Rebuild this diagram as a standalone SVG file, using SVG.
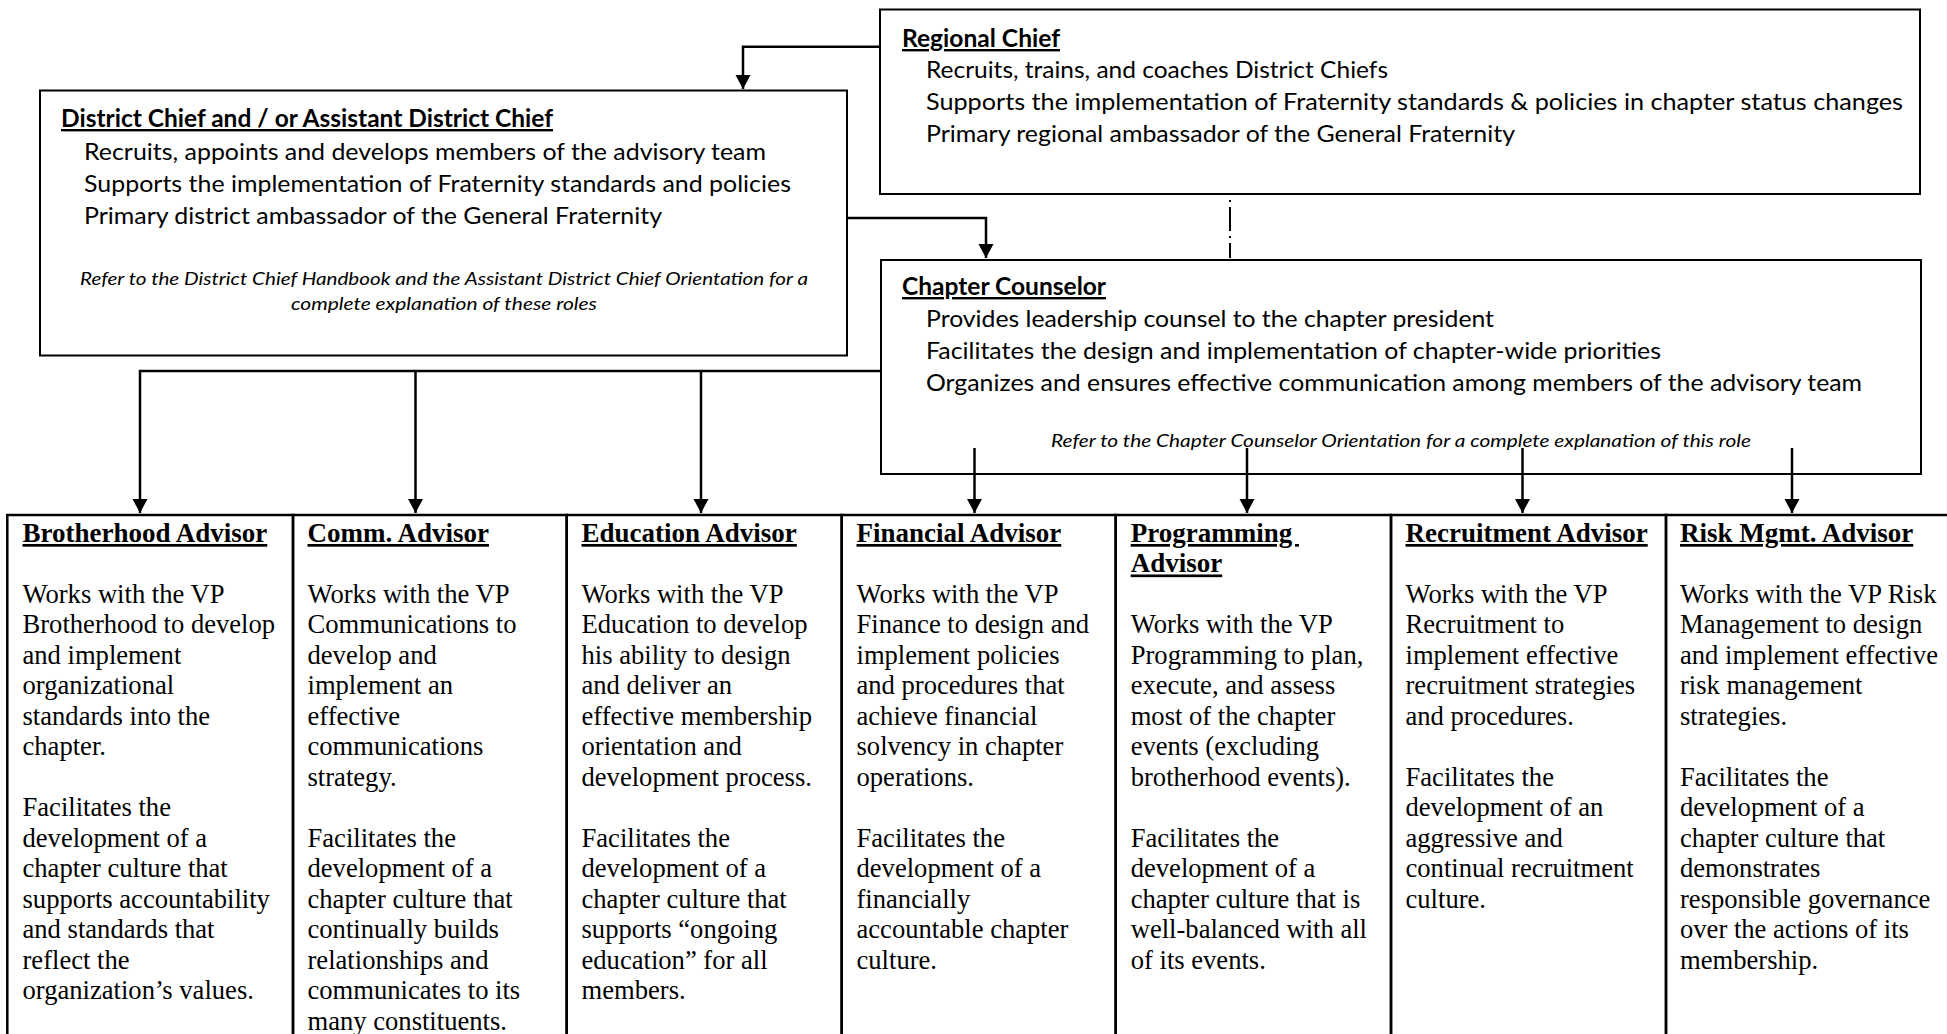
<svg xmlns="http://www.w3.org/2000/svg" width="1947" height="1034" viewBox="0 0 1947 1034">
<style>
.box{fill:#fff;stroke:#000;stroke-width:2}
.col{fill:none;stroke:#000;stroke-width:2.5}
.conn{fill:none;stroke:#000;stroke-width:2.5}
.sans{font-family:Lato,"Open Sans","Liberation Sans",sans-serif;fill:#000}
.stitle{font-size:24px;font-weight:bold;text-decoration:underline}
.sline{font-size:24px}
.sital{font-size:18px;font-style:italic}
.serif{font-family:"Liberation Serif","Times New Roman",serif;font-size:26.6px;fill:#000}
.ctitle{font-weight:bold;text-decoration:underline;font-size:27px}
</style>
<defs>
<marker id="arr" markerUnits="userSpaceOnUse" markerWidth="16" markerHeight="16" refX="14" refY="7.5" orient="auto">
<path d="M0,0 L14,7.5 L0,15 Z" fill="#000"/>
</marker>
</defs>

<g id="regional-chief">
<rect class="box" x="880" y="9.5" width="1040" height="184.5"/>
<text class="sans stitle" x="902" y="47" textLength="158" lengthAdjust="spacingAndGlyphs">Regional Chief</text>
<text class="sans sline" x="926" y="78" textLength="462" lengthAdjust="spacingAndGlyphs">Recruits, trains, and coaches District Chiefs</text>
<text class="sans sline" x="926" y="110" textLength="977" lengthAdjust="spacingAndGlyphs">Supports the implementation of Fraternity standards &amp; policies in chapter status changes</text>
<text class="sans sline" x="926" y="142" textLength="589" lengthAdjust="spacingAndGlyphs">Primary regional ambassador of the General Fraternity</text>
</g>

<g id="district-chief">
<rect class="box" x="40" y="90.5" width="807" height="265"/>
<text class="sans stitle" x="61" y="127" textLength="492" lengthAdjust="spacingAndGlyphs">District Chief and / or Assistant District Chief</text>
<text class="sans sline" x="84" y="160" textLength="682" lengthAdjust="spacingAndGlyphs">Recruits, appoints and develops members of the advisory team</text>
<text class="sans sline" x="84" y="192" textLength="707" lengthAdjust="spacingAndGlyphs">Supports the implementation of Fraternity standards and policies</text>
<text class="sans sline" x="84" y="224" textLength="578" lengthAdjust="spacingAndGlyphs">Primary district ambassador of the General Fraternity</text>
<text class="sans sital" x="80" y="285" textLength="728" lengthAdjust="spacingAndGlyphs">Refer to the District Chief Handbook and the Assistant District Chief Orientation for a</text>
<text class="sans sital" x="291" y="310" textLength="306" lengthAdjust="spacingAndGlyphs">complete explanation of these roles</text>
</g>

<g id="chapter-counselor">
<rect class="box" x="881" y="260" width="1040" height="214"/>
<text class="sans stitle" x="902" y="295" textLength="204" lengthAdjust="spacingAndGlyphs">Chapter Counselor</text>
<text class="sans sline" x="926" y="327" textLength="568" lengthAdjust="spacingAndGlyphs">Provides leadership counsel to the chapter president</text>
<text class="sans sline" x="926" y="359" textLength="735" lengthAdjust="spacingAndGlyphs">Facilitates the design and implementation of chapter-wide priorities</text>
<text class="sans sline" x="926" y="391" textLength="936" lengthAdjust="spacingAndGlyphs">Organizes and ensures effective communication among members of the advisory team</text>
<text class="sans sital" x="1051" y="447" textLength="700" lengthAdjust="spacingAndGlyphs">Refer to the Chapter Counselor Orientation for a complete explanation of this role</text>
</g>

<g id="connectors">
<path class="conn" d="M880,46.7 H743 V89" marker-end="url(#arr)"/>
<path class="conn" d="M847,218 H986 V258" marker-end="url(#arr)"/>
<path class="conn" d="M881,371 H140 V513" marker-end="url(#arr)"/>
<path class="conn" d="M415.5,371 V513" marker-end="url(#arr)"/>
<path class="conn" d="M701,371 V513" marker-end="url(#arr)"/>
<path class="conn" d="M974.5,448 V513" marker-end="url(#arr)"/>
<path class="conn" d="M1247,448 V513" marker-end="url(#arr)"/>
<path class="conn" d="M1522.5,448 V513" marker-end="url(#arr)"/>
<path class="conn" d="M1792,448 V513" marker-end="url(#arr)"/>
<path d="M1230,200 V258" fill="none" stroke="#000" stroke-width="2" stroke-dasharray="2,5,24,5"/>
</g>

<g id="brotherhood-advisor">
<rect class="col" x="7.3" y="515" width="285.7" height="600"/>
<text class="serif" x="22.5" y="542">
<tspan class="ctitle" x="22.5">Brotherhood Advisor</tspan>
<tspan x="22.5" dy="60.94">Works with the VP</tspan>
<tspan x="22.5" dy="30.47">Brotherhood to develop</tspan>
<tspan x="22.5" dy="30.47">and implement</tspan>
<tspan x="22.5" dy="30.47">organizational</tspan>
<tspan x="22.5" dy="30.47">standards into the</tspan>
<tspan x="22.5" dy="30.47">chapter.</tspan>
<tspan x="22.5" dy="60.94">Facilitates the</tspan>
<tspan x="22.5" dy="30.47">development of a</tspan>
<tspan x="22.5" dy="30.47">chapter culture that</tspan>
<tspan x="22.5" dy="30.47">supports accountability</tspan>
<tspan x="22.5" dy="30.47">and standards that</tspan>
<tspan x="22.5" dy="30.47">reflect the</tspan>
<tspan x="22.5" dy="30.47">organization’s values.</tspan>
</text>
</g>

<g id="comm-advisor">
<rect class="col" x="293" y="515" width="273.7" height="600"/>
<text class="serif" x="307.5" y="542">
<tspan class="ctitle" x="307.5">Comm. Advisor</tspan>
<tspan x="307.5" dy="60.94">Works with the VP</tspan>
<tspan x="307.5" dy="30.47">Communications to</tspan>
<tspan x="307.5" dy="30.47">develop and</tspan>
<tspan x="307.5" dy="30.47">implement an</tspan>
<tspan x="307.5" dy="30.47">effective</tspan>
<tspan x="307.5" dy="30.47">communications</tspan>
<tspan x="307.5" dy="30.47">strategy.</tspan>
<tspan x="307.5" dy="60.94">Facilitates the</tspan>
<tspan x="307.5" dy="30.47">development of a</tspan>
<tspan x="307.5" dy="30.47">chapter culture that</tspan>
<tspan x="307.5" dy="30.47">continually builds</tspan>
<tspan x="307.5" dy="30.47">relationships and</tspan>
<tspan x="307.5" dy="30.47">communicates to its</tspan>
<tspan x="307.5" dy="30.47">many constituents.</tspan>
</text>
</g>

<g id="education-advisor">
<rect class="col" x="566.7" y="515" width="275" height="600"/>
<text class="serif" x="581.5" y="542">
<tspan class="ctitle" x="581.5">Education Advisor</tspan>
<tspan x="581.5" dy="60.94">Works with the VP</tspan>
<tspan x="581.5" dy="30.47">Education to develop</tspan>
<tspan x="581.5" dy="30.47">his ability to design</tspan>
<tspan x="581.5" dy="30.47">and deliver an</tspan>
<tspan x="581.5" dy="30.47">effective membership</tspan>
<tspan x="581.5" dy="30.47">orientation and</tspan>
<tspan x="581.5" dy="30.47">development process.</tspan>
<tspan x="581.5" dy="60.94">Facilitates the</tspan>
<tspan x="581.5" dy="30.47">development of a</tspan>
<tspan x="581.5" dy="30.47">chapter culture that</tspan>
<tspan x="581.5" dy="30.47">supports “ongoing</tspan>
<tspan x="581.5" dy="30.47">education” for all</tspan>
<tspan x="581.5" dy="30.47">members.</tspan>
</text>
</g>

<g id="financial-advisor">
<rect class="col" x="841.7" y="515" width="274" height="600"/>
<text class="serif" x="856.5" y="542">
<tspan class="ctitle" x="856.5">Financial Advisor</tspan>
<tspan x="856.5" dy="60.94">Works with the VP</tspan>
<tspan x="856.5" dy="30.47">Finance to design and</tspan>
<tspan x="856.5" dy="30.47">implement policies</tspan>
<tspan x="856.5" dy="30.47">and procedures that</tspan>
<tspan x="856.5" dy="30.47">achieve financial</tspan>
<tspan x="856.5" dy="30.47">solvency in chapter</tspan>
<tspan x="856.5" dy="30.47">operations.</tspan>
<tspan x="856.5" dy="60.94">Facilitates the</tspan>
<tspan x="856.5" dy="30.47">development of a</tspan>
<tspan x="856.5" dy="30.47">financially</tspan>
<tspan x="856.5" dy="30.47">accountable chapter</tspan>
<tspan x="856.5" dy="30.47">culture.</tspan>
</text>
</g>

<g id="programming-advisor">
<rect class="col" x="1115.7" y="515" width="275.3" height="600"/>
<text class="serif" x="1130.7" y="542">
<tspan class="ctitle" x="1130.7">Programming&#160;</tspan>
<tspan class="ctitle" x="1130.7" dy="30.47">Advisor</tspan>
<tspan x="1130.7" dy="60.94">Works with the VP</tspan>
<tspan x="1130.7" dy="30.47">Programming to plan,</tspan>
<tspan x="1130.7" dy="30.47">execute, and assess</tspan>
<tspan x="1130.7" dy="30.47">most of the chapter</tspan>
<tspan x="1130.7" dy="30.47">events (excluding</tspan>
<tspan x="1130.7" dy="30.47">brotherhood events).</tspan>
<tspan x="1130.7" dy="60.94">Facilitates the</tspan>
<tspan x="1130.7" dy="30.47">development of a</tspan>
<tspan x="1130.7" dy="30.47">chapter culture that is</tspan>
<tspan x="1130.7" dy="30.47">well-balanced with all</tspan>
<tspan x="1130.7" dy="30.47">of its events.</tspan>
</text>
</g>

<g id="recruitment-advisor">
<rect class="col" x="1391" y="515" width="275" height="600"/>
<text class="serif" x="1405.5" y="542">
<tspan class="ctitle" x="1405.5">Recruitment Advisor</tspan>
<tspan x="1405.5" dy="60.94">Works with the VP</tspan>
<tspan x="1405.5" dy="30.47">Recruitment to</tspan>
<tspan x="1405.5" dy="30.47">implement effective</tspan>
<tspan x="1405.5" dy="30.47">recruitment strategies</tspan>
<tspan x="1405.5" dy="30.47">and procedures.</tspan>
<tspan x="1405.5" dy="60.94">Facilitates the</tspan>
<tspan x="1405.5" dy="30.47">development of an</tspan>
<tspan x="1405.5" dy="30.47">aggressive and</tspan>
<tspan x="1405.5" dy="30.47">continual recruitment</tspan>
<tspan x="1405.5" dy="30.47">culture.</tspan>
</text>
</g>

<g id="risk-mgmt-advisor">
<rect class="col" x="1666" y="515" width="300" height="600"/>
<text class="serif" x="1680" y="542">
<tspan class="ctitle" x="1680">Risk Mgmt. Advisor</tspan>
<tspan x="1680" dy="60.94">Works with the VP Risk</tspan>
<tspan x="1680" dy="30.47">Management to design</tspan>
<tspan x="1680" dy="30.47">and implement effective</tspan>
<tspan x="1680" dy="30.47">risk management</tspan>
<tspan x="1680" dy="30.47">strategies.</tspan>
<tspan x="1680" dy="60.94">Facilitates the</tspan>
<tspan x="1680" dy="30.47">development of a</tspan>
<tspan x="1680" dy="30.47">chapter culture that</tspan>
<tspan x="1680" dy="30.47">demonstrates</tspan>
<tspan x="1680" dy="30.47">responsible governance</tspan>
<tspan x="1680" dy="30.47">over the actions of its</tspan>
<tspan x="1680" dy="30.47">membership.</tspan>
</text>
</g>
</svg>
